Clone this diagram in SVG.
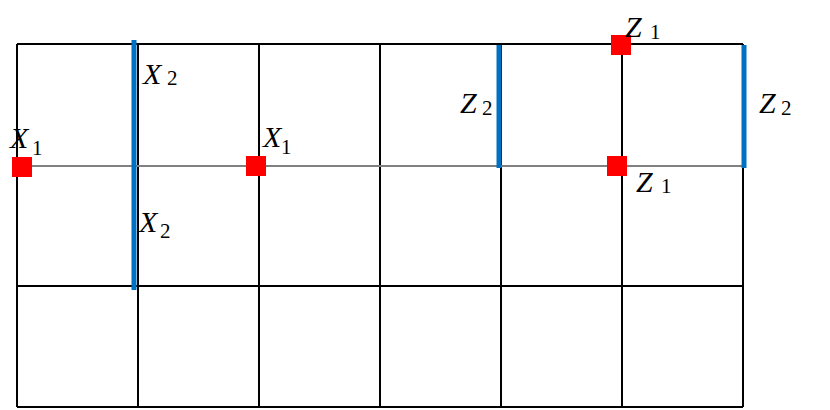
<svg xmlns="http://www.w3.org/2000/svg" width="830" height="410" viewBox="0 0 830 410">
<style>
.g{stroke:#000;stroke-width:2;fill:none}
.gm{stroke:#808080;stroke-width:2;fill:none}
.b{stroke:#0070C0;stroke-width:5;fill:none}
.r{fill:#FF0000}
.v{font-family:"Liberation Serif",serif;font-style:italic;font-size:30px;fill:#000}
.s{font-family:"Liberation Serif",serif;font-size:21px;fill:#000}
</style>
<rect width="830" height="410" fill="#fff"/>
<g id="grid">
<line class="g" x1="17" y1="44" x2="743" y2="44"/>
<line class="g" x1="17" y1="286" x2="743" y2="286"/>
<line class="g" x1="17" y1="407" x2="743" y2="407"/>
<line class="g" x1="17" y1="44" x2="17" y2="407"/>
<line class="g" x1="138" y1="44" x2="138" y2="407"/>
<line class="g" x1="259" y1="44" x2="259" y2="407"/>
<line class="g" x1="380" y1="44" x2="380" y2="407"/>
<line class="g" x1="501" y1="44" x2="501" y2="407"/>
<line class="g" x1="622" y1="44" x2="622" y2="407"/>
<line class="g" x1="743" y1="44" x2="743" y2="407"/>
<line class="gm" x1="17" y1="166" x2="743" y2="166"/>
</g>
<g id="connectors">
<line class="b" x1="134" y1="40" x2="134" y2="290"/>
<line class="b" x1="499" y1="45" x2="499" y2="168"/>
<line class="b" x1="744" y1="45" x2="744" y2="168"/>
</g>
<g id="x2-top"><text class="v" x="143" y="84">X</text><text class="s" x="167" y="85">2</text></g>
<g id="x2-bottom"><text class="v" x="139" y="232">X</text><text class="s" x="160" y="238">2</text></g>
<g id="x1-left"><rect class="r" x="12" y="157" width="20" height="20"/><text class="v" x="10" y="148">X</text><text class="s" x="32" y="155">1</text></g>
<g id="x1-mid"><rect class="r" x="246" y="156" width="20" height="20"/><text class="v" x="263" y="147">X</text><text class="s" x="281" y="154">1</text></g>
<g id="z2-mid"><text class="v" x="460" y="113">Z</text><text class="s" x="482" y="115">2</text></g>
<g id="z1-top"><rect class="r" x="611" y="35" width="20" height="20"/><text class="v" x="625" y="37">Z</text><text class="s" x="650" y="39">1</text></g>
<g id="z1-mid"><rect class="r" x="607" y="156" width="20" height="20"/><text class="v" x="636" y="192">Z</text><text class="s" x="661" y="193">1</text></g>
<g id="z2-right"><text class="v" x="759" y="113">Z</text><text class="s" x="781" y="115">2</text></g>
</svg>
